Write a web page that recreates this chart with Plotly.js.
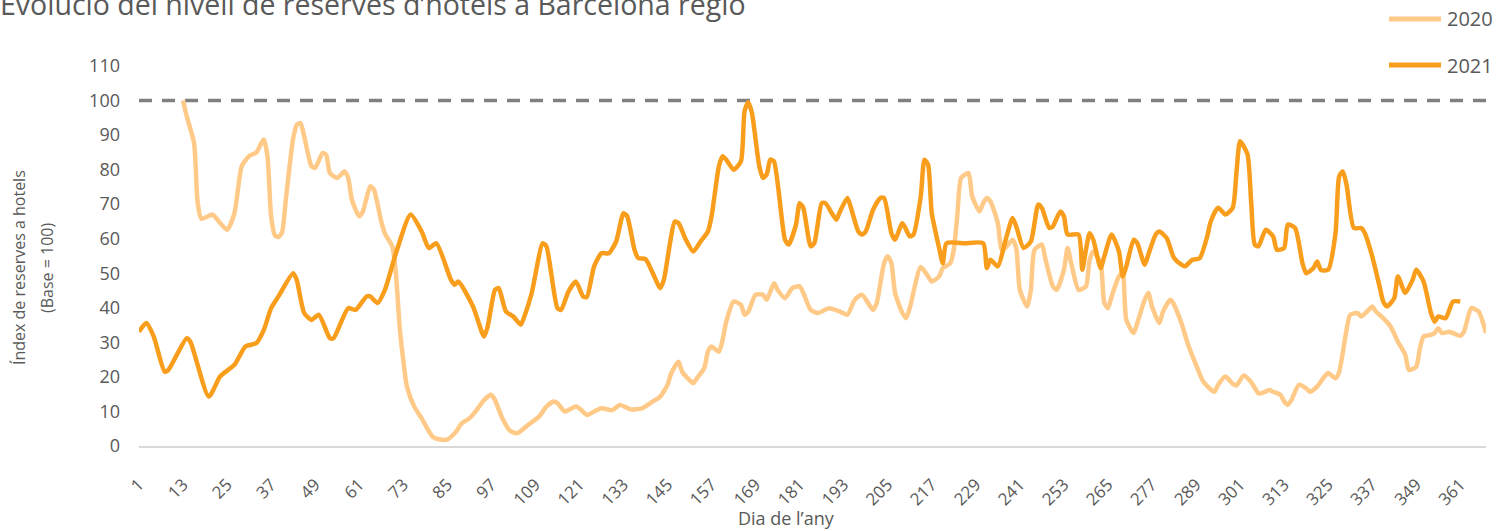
<!DOCTYPE html>
<html>
<head>
<meta charset="utf-8">
<script src="https://cdn.plot.ly/plotly-3.0.1.min.js"></script>
<style>html,body{margin:0;padding:0;background:#fff;}#chart{width:1496px;height:531px;}</style>
</head>
<body>
<div id="chart"></div>
<script>
// ---- data ----
const chartTitle = "Evolució del nivell de reserves d’hotels a Barcelona regió";
const xTitle = "Dia de l’any";
const yTitleLine1 = "Índex de reserves a hotels";
const yTitleLine2 = "(Base = 100)";
const seriesNames = ["2020", "2021"];
const tickDays = [1,13,25,37,49,61,73,85,97,109,121,133,145,157,169,181,193,205,217,229,241,253,265,277,289,301,313,325,337,349,361];
const yTicks = [0,10,20,30,40,50,60,70,80,90,100,110];
const baseValue = 100;

const days2020 = [13,14,16,17,18,21,22,25,27,29,31,33,34,35,36,37,38,39,40,41,43,44,45,46,48,49,51,52,53,55,57,58,59,61,62,64,65,67,68,70,71,72,73,74,76,78,81,83,85,87,89,91,93,95,97,98,100,102,104,107,110,112,114,115,117,118,120,121,123,124,127,130,132,135,138,141,143,145,146,148,149,151,152,153,155,156,157,159,160,161,163,165,166,167,169,171,172,174,175,177,179,181,182,184,186,189,192,194,196,198,201,202,204,205,206,207,209,210,211,214,216,217,219,220,222,223,224,225,227,228,230,231,232,233,235,236,237,239,240,241,243,244,245,247,248,250,251,253,254,255,257,259,260,261,263,264,265,266,268,269,270,272,273,275,276,277,279,280,282,283,285,287,289,291,294,295,297,299,300,302,304,306,307,309,310,312,313,314,315,317,319,320,322,324,325,327,328,330,331,333,334,336,337,338,340,342,344,346,347,349,350,351,353,354,355,356,358,359,361,362,364,366,368];
const vals2020 = [100,95.5,87.7,70.3,65.8,67,66,62.6,67.4,81,83.9,85,87,88.7,83.9,66.5,61,60.5,62,71.3,89,93,93.5,89.7,81,80.5,84.8,84.3,79,77.6,79.5,77.6,71.3,66.5,67.9,75.2,74.2,65,61.5,57.8,50,34.6,24.9,17.2,11.4,8,2.7,1.9,1.9,3.7,6.6,8,10.4,13.3,14.8,13.3,8,4.5,3.7,6.1,8.5,11.4,12.9,12.4,10,10.4,11.4,10.9,9,9.4,10.9,10.4,11.9,10.6,10.9,12.9,14.3,17.7,21,24.4,21.5,19.1,18.2,19.6,22.5,27.3,28.8,27.3,30.7,36,41.8,40.9,38,38.9,43.8,43.8,42.3,47.1,45.2,42.8,45.7,46.2,44.3,39.4,38.5,39.9,38.9,38,42.3,43.8,39.4,41.4,52.9,54.9,52.9,44.3,38.5,37,39.9,51.8,49.1,47.6,49.1,51.5,52.9,56.8,67.4,77.6,79,72.3,67.9,70.3,71.8,70.8,64.5,56.8,57.3,59.7,57.3,45.2,40.4,45.2,56.8,58.3,53.9,46.2,45.2,51,57.3,52.9,45.2,46.2,53.9,56.3,52.9,41.4,39.9,43.3,49.1,50,36.5,32.7,35.6,42.3,44.3,40.4,35.6,38.9,42.3,40.9,35.6,28.8,23.5,18.6,15.7,17.7,20.1,18,17.5,20.4,18.5,15.3,15.3,16.2,15.7,14.8,12.9,11.9,13.3,17.7,16.7,15.7,17.2,20.1,21.1,19.6,21.5,33.6,38,38.5,37.5,39.4,40.4,38.9,37,34.6,30.2,26.4,22,23,28.3,31.7,32.2,32.7,34.1,32.7,33.1,32.7,31.9,33.1,39.9,38.9,32.7];

const days2021 = [1,3,5,8,9,14,15,20,23,24,27,30,33,35,37,39,43,44,46,48,50,53,54,58,60,63,64,66,68,71,75,78,80,82,86,87,88,92,95,96,98,99,101,103,105,106,108,111,112,115,116,118,120,122,123,125,127,129,131,133,134,136,137,139,141,143,144,147,148,150,152,154,156,157,159,160,161,163,165,166,167,168,170,171,172,173,174,177,178,180,181,182,184,185,187,188,190,191,192,194,195,197,198,199,201,203,204,206,207,209,211,212,214,215,216,217,219,220,221,226,231,232,233,235,237,239,240,242,244,246,247,249,250,252,253,254,257,258,259,260,261,263,264,266,268,269,270,272,273,275,276,278,279,281,283,285,286,288,290,292,293,295,297,299,300,301,303,304,305,306,308,310,311,313,314,316,318,319,321,322,323,325,327,328,329,330,332,334,335,337,339,340,341,343,344,346,348,349,351,353,354,355,357,359,361];
const vals2021 = [33.1,35.6,31.7,21.5,22,31.2,30.2,14.3,20,21,23.5,28.8,29.8,33.6,39.9,43.3,50,48,38.5,36.5,38,31.2,31.2,39.9,39.4,43.3,43.3,41.4,45.2,55.8,67,62.1,57.3,58.7,48.1,46.7,47.6,40.4,31.7,34.6,45.2,45.7,38.9,37.5,35.1,37.5,44.3,58.7,57.8,39.9,39.4,44.7,47.6,43.3,43.1,52,55.8,55.8,59.2,67.4,66.5,56.8,54.4,54.1,50,45.7,48.1,65,64.5,59.7,56.3,59.2,62.1,66.5,81,83.9,82.9,80,82.4,97,99.5,96.4,81,77.6,78.6,82.9,82.4,59.7,58.3,64.1,70.3,68.9,57.8,58.7,70.3,70.3,67,65.5,67.9,71.8,68.9,62.1,61.2,62.1,68.4,71.8,71.8,61.6,59.7,64.5,60.7,61.2,72.3,82.9,81.4,67.4,57.3,52.9,58.7,58.7,58.7,51.5,53.9,52,59.2,66,63.6,57.3,59.2,69.9,68.9,63.1,63.6,67.9,66.5,61.2,61.2,51,56.8,61.6,59.7,51.5,54.9,61.2,56.3,49.1,52,59.7,58.7,52.5,55.4,61.2,62.1,60.2,54.4,52.5,52,53.9,54.4,60.5,65,69,67,69,79,88.2,84.5,71,58.3,57.8,62.6,60.7,56.8,57.3,64.1,63.1,52.9,50,51.5,53.4,51,51,61.6,78.1,79.5,75.6,63.1,63.1,61.6,54.9,46.2,41.8,40.4,42.8,49.1,44.3,48.1,51,47.6,38.5,36,37.5,37,41.8,41.8];

// ---- styling ----
const colors = ["#FFCA88", "#F99E1C"];
const textColor = "#595959";
const font = "Open Sans, DejaVu Sans, sans-serif";

const traces = [
  {x: days2020, y: vals2020, name: seriesNames[0], type: "scatter", mode: "lines",
   line: {color: colors[0], width: 4.5, shape: "spline", smoothing: 0.6}, showlegend: false, hoverinfo: "x+y"},
  {x: days2021, y: vals2021, name: seriesNames[1], type: "scatter", mode: "lines",
   line: {color: colors[1], width: 4.5, shape: "spline", smoothing: 0.6}, showlegend: false, hoverinfo: "x+y"}
];

const plotL = 139, plotR = 1486, plotT = 66, plotB = 446;
const W = plotR - plotL, H = plotB - plotT;
const px = v => (v - plotL) / W;
const py = v => (plotB - v) / H;

const legendRows = [19, 65];
const shapes = [
  {type: "line", xref: "paper", x0: 0, x1: 1, yref: "y", y0: baseValue, y1: baseValue,
   line: {color: "#808080", width: 3.5, dash: "13px,10px"}, layer: "below"}
];
const annotations = [
  {text: xTitle, xref: "paper", yref: "paper", x: px(786), y: py(518), xanchor: "center", yanchor: "middle",
   showarrow: false, font: {family: font, size: 18, color: textColor}},
  {text: yTitleLine1, xref: "paper", yref: "paper", x: px(19), y: py(268), xanchor: "center", yanchor: "middle",
   textangle: -90, showarrow: false, font: {family: font, size: 16, color: textColor}},
  {text: yTitleLine2, xref: "paper", yref: "paper", x: px(47), y: py(268), xanchor: "center", yanchor: "middle",
   textangle: -90, showarrow: false, font: {family: font, size: 16, color: textColor}}
];
seriesNames.forEach((n, i) => {
  shapes.push({type: "line", xref: "paper", yref: "paper", x0: px(1389), x1: px(1441), y0: py(legendRows[i]), y1: py(legendRows[i]),
    line: {color: colors[i], width: 5}});
  annotations.push({text: n, xref: "paper", yref: "paper", x: px(1445), y: py(legendRows[i]), xanchor: "left", yanchor: "middle",
    showarrow: false, font: {family: font, size: 20, color: textColor}});
});

const layout = {
  width: 1496, height: 531,
  margin: {l: plotL, r: 1496 - plotR, t: plotT, b: 531 - plotB},
  paper_bgcolor: "#fff", plot_bgcolor: "#fff",
  font: {family: font, color: textColor},
  title: {text: chartTitle, xref: "container", x: 0, xanchor: "left", yref: "container", y: 0.9905, yanchor: "middle",
          pad: {l: 0, t: 0}, font: {family: font, size: 28.5, color: textColor}},
  xaxis: {type: "linear", range: [1, 368], tickvals: tickDays, ticktext: tickDays.map(String), tickangle: -45,
          showgrid: false, zeroline: false, showline: true, linecolor: "#D9D9D9", linewidth: 2,
          ticks: "", ticklabelstandoff: 20, tickfont: {family: font, size: 17, color: textColor}},
  yaxis: {range: [0, 110], tickvals: yTicks, ticktext: yTicks.map(String), showgrid: false, zeroline: false, showline: false,
          ticks: "", ticklabelstandoff: 18, tickfont: {family: font, size: 18, color: textColor}},
  shapes: shapes,
  annotations: annotations,
  showlegend: false
};

Plotly.newPlot("chart", traces, layout, {displayModeBar: false, staticPlot: true});
</script>
</body>
</html>
